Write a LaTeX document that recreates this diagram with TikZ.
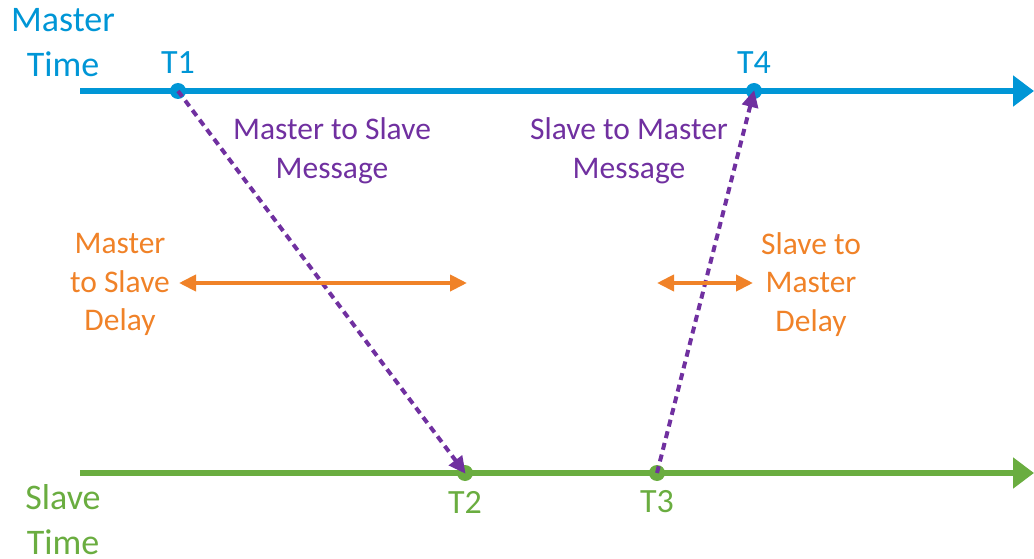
\documentclass[tikz,border=0pt]{standalone}
\usepackage{fontspec}
\setmainfont{Carlito}
\usetikzlibrary{arrows.meta}
\definecolor{mblue}{RGB}{0,150,214}
\definecolor{sgreen}{RGB}{106,173,64}
\definecolor{msgpurple}{RGB}{112,48,160}
\definecolor{dlyorange}{RGB}{240,130,40}
\tikzset{
  axisline/.style={line width=5.5pt, -{Triangle[length=21pt,width=30pt]}},
  msgarrow/.style={msgpurple, line width=4pt, dash pattern=on 7pt off 5pt,
    -{Triangle[length=17pt,width=16pt]}, shorten >=-1pt},
  delayarrow/.style={dlyorange, line width=4pt,
    {Triangle[length=17pt,width=16pt]}-{Triangle[length=17pt,width=16pt]}},
  evdot/.style={circle, fill, inner sep=0pt, minimum size=16pt},
  biglabel/.style={font=\fontsize{36}{45}\selectfont, align=center, inner sep=0pt},
  tlabel/.style={font=\fontsize{34}{40}\selectfont, inner sep=0pt},
  txt/.style={font=\fontsize{31.5}{38.5}\selectfont, align=center, inner sep=0pt},
}
\begin{document}
\begin{tikzpicture}[x=1pt, y=-1pt]
\useasboundingbox (0,0) rectangle (1034,559);

% time axes
\coordinate (mstart) at (80,91);
\coordinate (mend) at (1034,91);
\coordinate (sstart) at (80,473);
\coordinate (send) at (1034,473);
\draw[axisline, mblue] (mstart) -- (mend);
\draw[axisline, sgreen] (sstart) -- (send);

% timestamps
\node[evdot, mblue] (t1) at (178,91) {};
\node[evdot, mblue] (t4) at (754,91) {};
\node[evdot, sgreen] (t2) at (465,473) {};
\node[evdot, sgreen] (t3) at (657,473) {};

\node[tlabel, mblue] (t1l) at (178,63) {T1};
\node[tlabel, mblue] (t4l) at (754,63) {T4};
\node[tlabel, sgreen] (t2l) at (465,502) {T2};
\node[tlabel, sgreen] (t3l) at (657,502) {T3};

% axis titles
\node[biglabel, mblue] (mtime) at (63,43) {Master\\Time};
\node[biglabel, sgreen] (stime) at (63,520) {Slave\\Time};

% messages
\draw[msgarrow] (t1.center) -- (t2.center);
\draw[msgarrow] (t3.center) -- (t4.center);
\node[txt, msgpurple] (m2s) at (332,151) {Master to Slave\\Message};
\node[txt, msgpurple] (s2m) at (629,151) {Slave to Master\\Message};

% delays
\coordinate (d1a) at (179,283);
\coordinate (d1b) at (467,283);
\coordinate (d2a) at (657,283);
\coordinate (d2b) at (753,283);
\draw[delayarrow] (d1a) -- (d1b);
\draw[delayarrow] (d2a) -- (d2b);
\node[txt, dlyorange] (m2sd) at (120,284.5) {Master\\to Slave\\Delay};
\node[txt, dlyorange] (s2md) at (811,284.5) {Slave to\\Master\\Delay};
\end{tikzpicture}
\end{document}
